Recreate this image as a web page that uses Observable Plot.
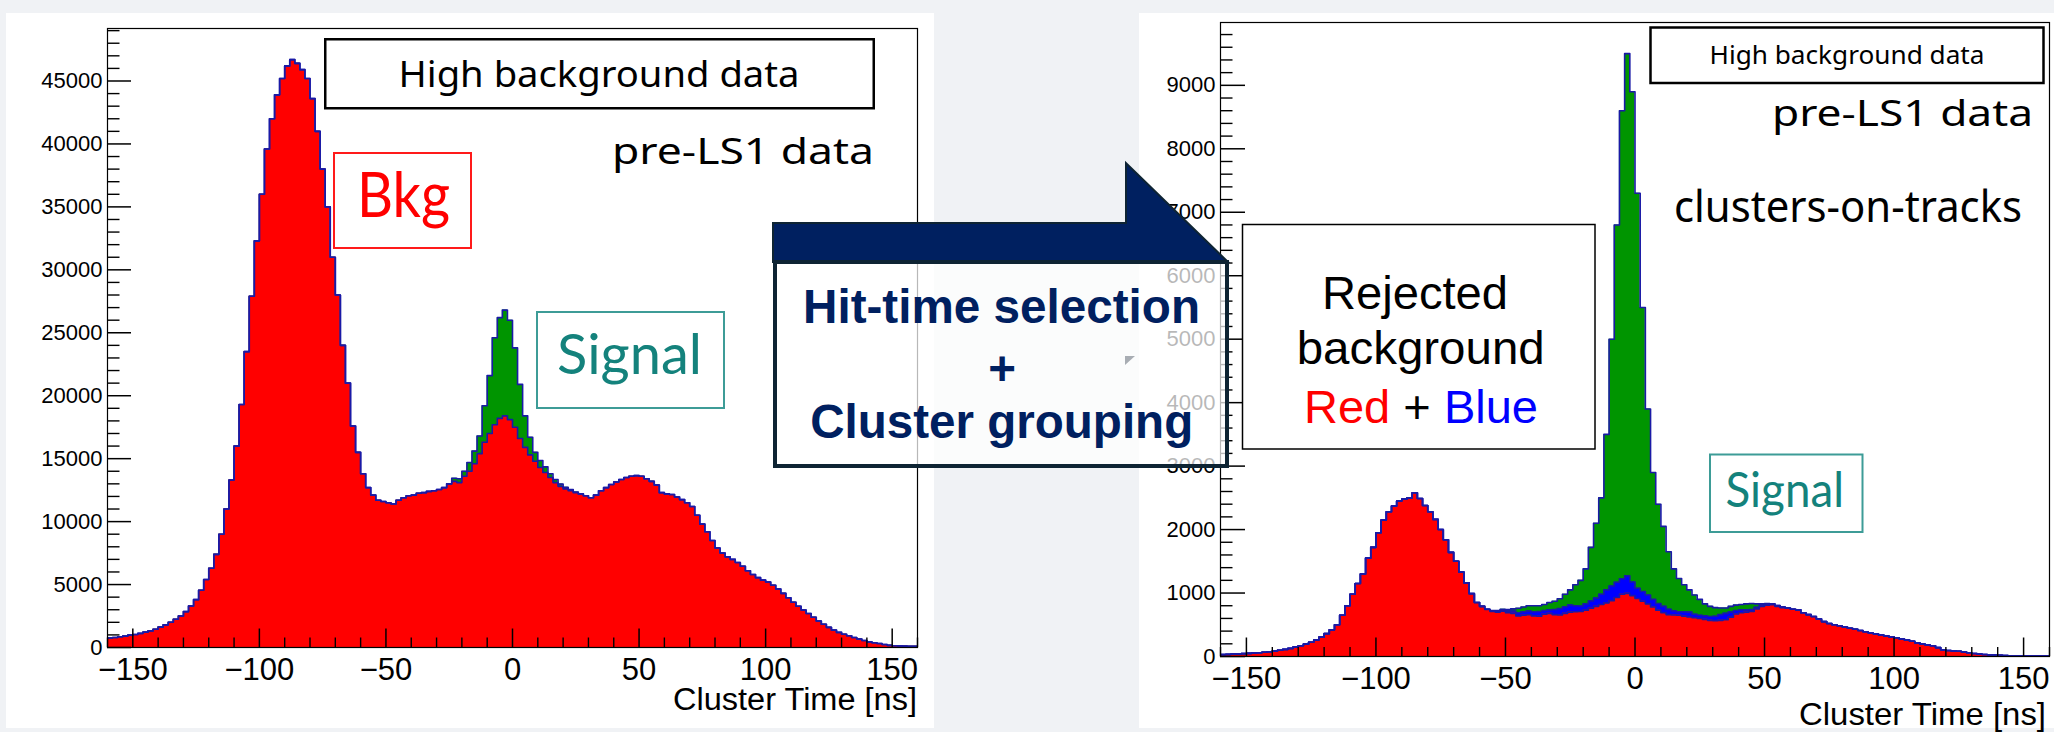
<!DOCTYPE html>
<html><head><meta charset="utf-8">
<script src="https://cdn.jsdelivr.net/npm/d3@7"></script>
<script src="https://cdn.jsdelivr.net/npm/@observablehq/plot@0.6"></script>
<style>
html,body{margin:0;padding:0;background:#f0f2f5;}
#page{position:relative;width:2054px;height:732px;overflow:hidden;background:#f0f2f5;}
.card{position:absolute;background:#fff;}
.plotwrap{position:absolute;top:0;}
.plotwrap svg{display:block;max-width:none;}
#overlay{position:absolute;left:0;top:0;pointer-events:none;}
</style></head><body>
<div id="page">
  <div class="card" style="left:6px;top:13px;width:928px;height:715px"></div>
  <div class="card" style="left:1139px;top:13px;width:915px;height:715px"></div>
  <div class="plotwrap" id="left" style="left:0px"></div>
  <div class="plotwrap" id="right" style="left:1139px"></div>
  <svg id="overlay" width="2054" height="732" xmlns="http://www.w3.org/2000/svg">
    <!-- left panel annotations -->
    <rect x="325.25" y="39.25" width="548.5" height="69" fill="#fff" stroke="#000" stroke-width="2.5"/>
    <text x="599" y="86.5" text-anchor="middle" font-family="Noto Sans" font-size="36" textLength="401" lengthAdjust="spacingAndGlyphs">High background data</text>
    <text x="874" y="163.5" text-anchor="end" font-family="Noto Sans" font-size="37" textLength="262" lengthAdjust="spacingAndGlyphs">pre-LS1 data</text>
    <rect x="334" y="153" width="137" height="95" fill="none" stroke="#ff1a1a" stroke-width="2"/>
    <text x="357" y="217" font-family="Lato" font-size="61" fill="#ff0000" textLength="93" lengthAdjust="spacingAndGlyphs">Bkg</text>
    <rect x="537" y="312" width="187" height="96" fill="none" stroke="#3d9c97" stroke-width="2"/>
    <text x="557" y="373.5" font-family="Lato" font-size="57" fill="#14827c" textLength="145" lengthAdjust="spacingAndGlyphs">Signal</text>
    <text x="917" y="710" text-anchor="end" font-family="Liberation Sans" font-size="31" textLength="244" lengthAdjust="spacingAndGlyphs">Cluster Time [ns]</text>

    <!-- middle arrow callout -->
    <polygon points="773,223 1126,223 1126,163 1228,262 773,262" fill="#002060" stroke="#0e2433" stroke-width="2"/>
    <rect x="775" y="262" width="452" height="204" fill="rgba(255,255,255,0.72)" stroke="#0e2433" stroke-width="4"/>
    <polygon points="1125,356 1135,356 1125,365" fill="#a8adb3"/>
    <text x="1001.5" y="323" text-anchor="middle" font-family="Liberation Sans" font-weight="bold" font-size="47.5" fill="#002060" textLength="397" lengthAdjust="spacingAndGlyphs">Hit-time selection</text>
    <text x="1002" y="385" text-anchor="middle" font-family="Liberation Sans" font-weight="bold" font-size="47.5" fill="#002060">+</text>
    <text x="1001.7" y="438" text-anchor="middle" font-family="Liberation Sans" font-weight="bold" font-size="47.5" fill="#002060" textLength="383" lengthAdjust="spacingAndGlyphs">Cluster grouping</text>

    <!-- right panel annotations -->
    <rect x="1650.5" y="27.5" width="393" height="55.5" fill="#fff" stroke="#000" stroke-width="2.5"/>
    <text x="1847" y="64" text-anchor="middle" font-family="Noto Sans" font-size="26" textLength="275" lengthAdjust="spacingAndGlyphs">High background data</text>
    <text x="2033" y="126" text-anchor="end" font-family="Noto Sans" font-size="37" textLength="261" lengthAdjust="spacingAndGlyphs">pre-LS1 data</text>
    <text x="1674" y="222" font-family="Noto Sans" font-size="44" textLength="348" lengthAdjust="spacingAndGlyphs">clusters-on-tracks</text>
    <rect x="1242.5" y="224.5" width="352.5" height="224.5" fill="#fff" stroke="#000" stroke-width="1.5"/>
    <text x="1415" y="309" text-anchor="middle" font-family="Liberation Sans" font-size="47" textLength="186" lengthAdjust="spacingAndGlyphs">Rejected</text>
    <text x="1420.7" y="364" text-anchor="middle" font-family="Liberation Sans" font-size="47" textLength="248" lengthAdjust="spacingAndGlyphs">background</text>
    <text x="1421" y="422.5" text-anchor="middle" font-family="Liberation Sans" font-size="47" textLength="234" lengthAdjust="spacingAndGlyphs"><tspan fill="#ff0000">Red</tspan> + <tspan fill="#0000ff">Blue</tspan></text>
    <rect x="1710" y="454.5" width="152.5" height="77.5" fill="none" stroke="#3d9c97" stroke-width="2"/>
    <text x="1725.5" y="506.5" font-family="Lato" font-size="49" fill="#14827c" textLength="118.5" lengthAdjust="spacingAndGlyphs">Signal</text>
    <text x="2046" y="724.5" text-anchor="end" font-family="Liberation Sans" font-size="32" textLength="247" lengthAdjust="spacingAndGlyphs">Cluster Time [ns]</text>
  </svg>
</div>
<script>
// ---- histogram binning (2 ns bins from -160 to 160 ns) ----
const binStart = -160;
const binWidth = 2;

// ---- left panel: high background data, all clusters ----
const leftBkg = [
  760,800,850,900,980,1030,1120,1220,1320,1450,
  1620,1800,2000,2250,2500,2850,3300,3800,4550,5400,
  6300,7400,9000,11000,13300,16000,19300,23500,27900,32300,
  36000,39600,42000,43900,45200,46200,46700,46400,45900,45200,
  43600,41000,38000,35000,31000,28000,24000,21000,17600,15500,
  13800,12700,12100,11700,11600,11500,11400,11700,11900,12050,
  12100,12250,12300,12400,12450,12550,12700,13000,13200,13100,
  13600,14000,14600,15400,16300,17000,17700,18200,18400,18100,
  17500,16600,15900,15300,14800,14300,13900,13500,13100,12800,
  12600,12450,12300,12200,12050,11900,12100,12450,12700,12950,
  13150,13350,13500,13600,13650,13600,13400,13200,12900,12300,
  12200,12150,11950,11750,11500,11200,10500,9800,9200,8500,
  7900,7500,7200,7000,6750,6450,6100,5800,5550,5350,
  5200,4950,4650,4300,3950,3600,3280,2980,2700,2400,
  2100,1850,1600,1380,1200,1050,930,800,680,560,
  450,380,320,240,170,140,130,110,100,100
];
const leftSignal = [
  0,0,0,0,0,0,0,0,0,0,
  0,0,0,0,0,0,0,0,0,0,
  0,0,0,0,0,0,0,0,0,0,
  0,0,0,0,0,0,0,0,0,0,
  0,0,0,0,0,0,0,0,0,0,
  0,0,0,0,0,0,0,0,0,0,
  0,0,0,0,0,0,0,0,250,300,
  400,700,1000,1400,2900,4600,6900,8000,8400,7900,
  6300,4300,2500,1400,700,550,450,300,250,180,
  120,100,50,0,0,0,0,0,0,0,
  0,0,0,0,0,0,0,0,0,0,
  0,0,0,0,0,0,0,0,0,0,
  0,0,0,0,0,0,0,0,0,0,
  0,0,0,0,0,0,0,0,0,0,
  0,0,0,0,0,0,0,0,0,0,
  0,0,0,0,0,0,0,0,0,0
];

// ---- right panel: clusters-on-tracks ----
const rightRed = [
  30,33,38,42,46,50,55,60,66,75,
  85,98,112,128,148,170,195,225,260,305,
  360,420,500,650,800,980,1150,1300,1550,1720,
  1950,2150,2280,2370,2450,2480,2500,2580,2490,2380,
  2280,2160,2000,1840,1640,1500,1330,1160,990,850,
  790,740,710,700,715,690,680,640,650,660,
  640,635,665,680,660,655,680,700,705,710,
  730,760,790,820,845,880,930,980,995,960,
  915,870,830,780,730,690,660,655,650,635,
  625,610,600,585,570,565,570,580,620,670,
  690,700,710,750,790,810,815,790,770,760,
  745,735,690,660,630,590,550,520,500,485,
  465,445,430,410,390,370,355,340,325,310,
  295,275,260,240,215,195,180,170,140,105,
  95,88,82,70,58,48,38,32,26,22,
  20,15,11,10,10,10,10,9,8,8
];
const rightBlue = [
  0,0,0,0,0,0,0,0,0,0,
  0,0,0,0,0,0,0,0,0,0,
  0,0,0,0,0,0,0,0,0,0,
  0,0,0,0,0,0,0,0,0,0,
  0,0,0,0,0,0,0,0,0,0,
  0,5,10,15,20,25,35,50,55,55,
  65,75,60,55,80,100,105,110,95,85,
  100,115,130,160,205,230,240,245,275,215,
  160,155,140,120,105,100,85,65,55,70,
  75,55,50,55,60,70,90,100,80,55,
  45,35,28,25,22,20,15,12,10,5,
  0,0,0,0,0,0,0,0,0,0,
  0,0,0,0,0,0,0,0,0,0,
  0,0,0,0,0,0,0,0,0,0,
  0,0,0,0,0,0,0,0,0,0,
  0,0,0,0,0,0,0,0,0,0
];
const rightSignal = [
  0,0,0,0,0,0,0,0,0,0,
  0,0,0,0,0,0,0,0,0,0,
  0,0,0,0,0,0,0,0,0,0,
  0,0,0,0,0,0,0,0,0,0,
  0,0,0,0,0,0,0,0,0,0,
  0,0,5,10,10,25,35,70,75,85,
  95,90,95,115,130,155,195,240,330,405,
  550,845,1180,1520,2450,3890,5630,7375,8230,7725,
  6225,4475,2930,2000,1565,1260,905,660,525,425,
  350,305,250,190,160,135,105,85,90,85,
  85,95,97,55,18,5,0,0,0,0,
  0,0,0,0,0,0,0,0,0,0,
  0,0,0,0,0,0,0,0,0,0,
  0,0,0,0,0,0,0,0,0,0,
  0,0,0,0,0,0,0,0,0,0,
  0,0,0,0,0,0,0,0,0,0
];

// ---- axes ----
const xDomain = [-160, 160];
const xMajorTicks = [-150, -100, -50, 0, 50, 100, 150];
const leftYLabels = [0, 5000, 10000, 15000, 20000, 25000, 30000, 35000, 40000, 45000];
const rightYLabels = [0, 1000, 2000, 3000, 4000, 5000, 6000, 7000, 8000, 9000];
const leftYMax = 49170;
const rightYMax = 9990;

const RED = "#ff0000", GREEN = "#009500", BLUE = "#0000ff", OUTLINE = "#1a1aa6";
const FONT = "'Liberation Sans', Arial, Helvetica, sans-serif";

// cumulative step points for stacked histogram layers
function stackedSteps(layers) {
  const n = layers[0].length;
  const pts = [];
  for (let i = 0; i <= n; i++) {
    const j = Math.min(i, n - 1);
    const p = {x: binStart + i * binWidth};
    let acc = 0;
    layers.forEach((L, k) => { p["lo" + k] = acc; acc += L[j]; p["hi" + k] = acc; });
    pts.push(p);
  }
  return pts;
}
const fmtX = d => d < 0 ? "\u2212" + (-d) : String(d);
const xMinor = d3.range(-160, 161, 10).filter(d => d % 50 !== 0);

function rootFrameMarks(cfg) {
  const pw = cfg.width - cfg.mL - cfg.mR, ph = cfg.height - cfg.mT - cfg.mB;
  const yMinor = d3.range(0, cfg.yMax, cfg.yMinorStep).filter(d => d % cfg.yMajorStep !== 0);
  return [
    Plot.tickX(xMinor, {x: d => d, insetTop: ph - cfg.xMinorLen, stroke: "#000", strokeWidth: 1.4}),
    Plot.tickX(xMajorTicks, {x: d => d, insetTop: ph - cfg.xMajorLen, stroke: "#000", strokeWidth: 1.5}),
    Plot.tickY(yMinor, {y: d => d, insetRight: pw - cfg.yMinorLen, stroke: "#000", strokeWidth: 1.4}),
    Plot.tickY(cfg.yLabels, {y: d => d, insetRight: pw - cfg.yMajorLen, stroke: "#000", strokeWidth: 1.5}),
    Plot.axisX({ticks: xMajorTicks, tickSize: 0, tickPadding: 10.5, fontSize: 31, tickFormat: fmtX, label: null}),
    Plot.axisY({ticks: cfg.yLabels, tickSize: 0, tickPadding: 5, fontSize: 22, tickFormat: d => String(d), label: null}),
    Plot.frame({stroke: "#000", strokeWidth: 1.2})
  ];
}

// ---- left plot ----
const ptsL = stackedSteps([leftBkg, leftSignal]);
const cfgL = {width: 935, height: 732, mL: 107, mR: 18, mT: 28, mB: 85, yMax: leftYMax,
  yLabels: leftYLabels, yMajorStep: 5000, yMinorStep: 1000, xMajorLen: 18.5, xMinorLen: 9.5, yMajorLen: 24, yMinorLen: 12.5};
const plotL = Plot.plot({
  width: cfgL.width, height: cfgL.height,
  marginLeft: cfgL.mL, marginRight: cfgL.mR, marginTop: cfgL.mT, marginBottom: cfgL.mB,
  x: {domain: xDomain}, y: {domain: [0, leftYMax]},
  style: {background: "none", fontFamily: FONT, overflow: "visible", color: "#000"},
  marks: [
    Plot.areaY(ptsL, {x: "x", y1: 0, y2: "hi1", curve: "step-after", fill: GREEN, clip: true}),
    Plot.areaY(ptsL, {x: "x", y1: 0, y2: "hi0", curve: "step-after", fill: RED, clip: true}),
    Plot.line(ptsL, {x: "x", y: "hi1", curve: "step-after", stroke: OUTLINE, strokeWidth: 1.6, clip: true}),
    Plot.line(ptsL, {x: "x", y: "hi0", curve: "step-after", stroke: OUTLINE, strokeWidth: 1.6, clip: true}),
    ...rootFrameMarks(cfgL)
  ]
});
document.getElementById("left").append(plotL);

// ---- right plot ----
const ptsR = stackedSteps([rightRed, rightBlue, rightSignal]);
const cfgR = {width: 915, height: 732, mL: 81, mR: 5, mT: 22, mB: 76, yMax: rightYMax,
  yLabels: rightYLabels, yMajorStep: 1000, yMinorStep: 200, xMajorLen: 18.5, xMinorLen: 9, yMajorLen: 25, yMinorLen: 12.5};
const plotR = Plot.plot({
  width: cfgR.width, height: cfgR.height,
  marginLeft: cfgR.mL, marginRight: cfgR.mR, marginTop: cfgR.mT, marginBottom: cfgR.mB,
  x: {domain: xDomain}, y: {domain: [0, rightYMax]},
  style: {background: "none", fontFamily: FONT, overflow: "visible", color: "#000"},
  marks: [
    Plot.areaY(ptsR, {x: "x", y1: 0, y2: "hi2", curve: "step-after", fill: GREEN, clip: true}),
    Plot.areaY(ptsR, {x: "x", y1: 0, y2: "hi1", curve: "step-after", fill: BLUE, clip: true}),
    Plot.areaY(ptsR, {x: "x", y1: 0, y2: "hi0", curve: "step-after", fill: RED, clip: true}),
    Plot.line(ptsR, {x: "x", y: "hi2", curve: "step-after", stroke: OUTLINE, strokeWidth: 1.6, clip: true}),
    Plot.line(ptsR, {x: "x", y: "hi1", curve: "step-after", stroke: OUTLINE, strokeWidth: 1.6, clip: true}),
    Plot.line(ptsR, {x: "x", y: "hi0", curve: "step-after", stroke: OUTLINE, strokeWidth: 1.6, clip: true}),
    ...rootFrameMarks(cfgR)
  ]
});
document.getElementById("right").append(plotR);
</script>
</body></html>
